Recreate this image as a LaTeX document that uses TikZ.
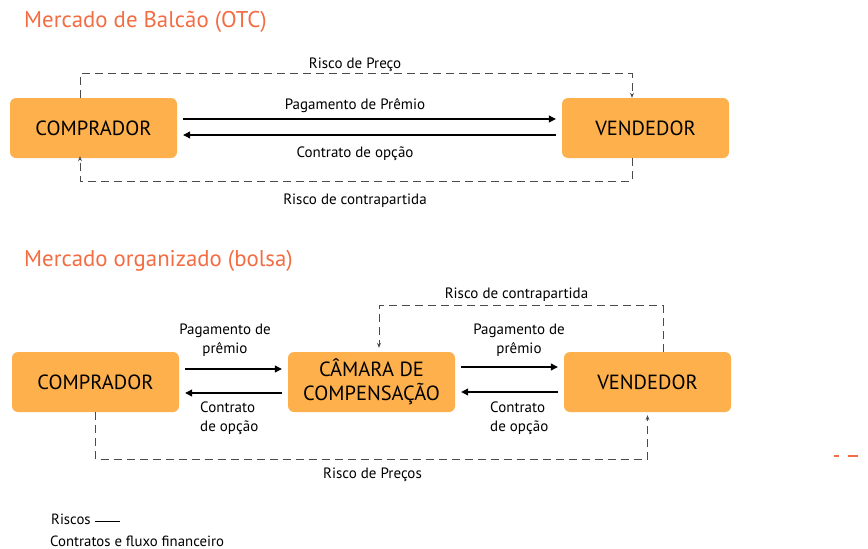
\documentclass[tikz,border=0pt]{standalone}
\usepackage{fontspec}
\setmainfont{PT Sans}
\usetikzlibrary{arrows.meta, calc, positioning}
\definecolor{boxorange}{RGB}{253,176,76}
\definecolor{titleorange}{RGB}{243,108,66}
\definecolor{riskgray}{RGB}{75,75,75}
\tikzstyle{party} = [rectangle, rounded corners=6pt, fill=boxorange, minimum width=167pt, minimum height=60pt, align=center, font=\fontsize{20.5}{24}\selectfont]
\tikzstyle{heading} = [anchor=west, inner sep=0pt, text=titleorange, font=\fontsize{22.8}{26}\selectfont]
\tikzstyle{flow} = [line width=1.1pt, -{Triangle[length=7pt,width=7pt]}]
\tikzstyle{risk} = [riskgray, line width=0.9pt, dash pattern=on 8pt off 5pt, -{Stealth[length=5pt,width=4pt]}]
\tikzstyle{lbl} = [inner sep=0pt, yshift=-2pt, font=\fontsize{15}{19}\selectfont]
\tikzstyle{legend} = [inner sep=0pt, anchor=west, font=\fontsize{14.8}{17}\selectfont]

\begin{document}
\begin{tikzpicture}[x=1pt, y=-1pt]
	\useasboundingbox (0,0) rectangle (868,549);
	% OTC market
	\node (TitleOTC) [heading] at (24,22) {Mercado de Balcão (OTC)};
	\node (BuyerOTC) [party] at (93.5,128) {COMPRADOR};
	\node (SellerOTC) [party] at (645.5,128) {VENDEDOR};
	\draw [flow] ([xshift=6pt,yshift=9pt]BuyerOTC.east) -- ([xshift=-6pt,yshift=9pt]SellerOTC.west);
	\draw [flow] ([xshift=-6pt,yshift=-7pt]SellerOTC.west) -- ([xshift=6pt,yshift=-7pt]BuyerOTC.east);
	\node (PayOTC) [lbl] at (355,104) {Pagamento de Prêmio};
	\node (ContractOTC) [lbl] at (355,152) {Contrato de opção};
	\draw [risk] ([xshift=-13.5pt]BuyerOTC.north) -- ++(0,-24) -| ([xshift=-13.5pt]SellerOTC.north);
	\draw [risk, shorten >=-2pt] ([xshift=-13.5pt]SellerOTC.south) -- ++(0,23) -| ([xshift=-13.5pt]BuyerOTC.south);
	\node (PriceOTC) [lbl] at (355,63) {Risco de Preço};
	\node (CounterOTC) [lbl] at (355,199) {Risco de contrapartida};
	% organized market
	\node (TitleExch) [heading] at (24,261) {Mercado organizado (bolsa)};
	\node (BuyerExch) [party] at (95.5,382) {COMPRADOR};
	\node (Clearing) [party] at (371.5,382) {CÂMARA DE\\COMPENSAÇÃO};
	\node (SellerExch) [party] at (647.5,382) {VENDEDOR};
	\draw [flow] ([xshift=6pt,yshift=13pt]BuyerExch.east) -- ([xshift=-6pt,yshift=13pt]Clearing.west);
	\draw [flow] ([xshift=-6pt,yshift=-11pt]Clearing.west) -- ([xshift=6pt,yshift=-11pt]BuyerExch.east);
	\draw [flow] ([xshift=6pt,yshift=15pt]Clearing.east) -- ([xshift=-6pt,yshift=15pt]SellerExch.west);
	\draw [flow] ([xshift=-6pt,yshift=-10pt]SellerExch.west) -- ([xshift=6pt,yshift=-10pt]Clearing.east);
	\node (PayLeft) [lbl, align=center] at (225,338.5) {Pagamento de\\prêmio};
	\node (PayRight) [lbl, align=center] at (519,338.5) {Pagamento de\\prêmio};
	\node (ContractLeft) [lbl, align=left, anchor=west] at (200,416.5) {Contrato\\de opção};
	\node (ContractRight) [lbl, align=left, anchor=west] at (490,416.5) {Contrato\\de opção};
	\draw [risk, shorten >=4pt] ([xshift=15.5pt]SellerExch.north) -- ++(0,-46) -| ([xshift=7.5pt]Clearing.north);
	\draw [risk, shorten >=3pt] (BuyerExch.south) -- ++(0,47) -| (SellerExch.south);
	\node (CounterExch) [lbl] at (516.5,293) {Risco de contrapartida};
	\node (PriceExch) [lbl] at (372.5,473) {Risco de Preços};
	% legend
	\node (LegendRisk) [legend] at (51,519) {Riscos};
	\draw [line width=0.9pt] ([xshift=4pt,yshift=-2pt]LegendRisk.east) -- ++(25,0);
	\node (LegendFlow) [legend] at (50,541) {Contratos e fluxo financeiro};
	\draw [titleorange, line width=1.5pt] (834,456) -- (839,456) (848,456) -- (858,456);
\end{tikzpicture}
\end{document}
